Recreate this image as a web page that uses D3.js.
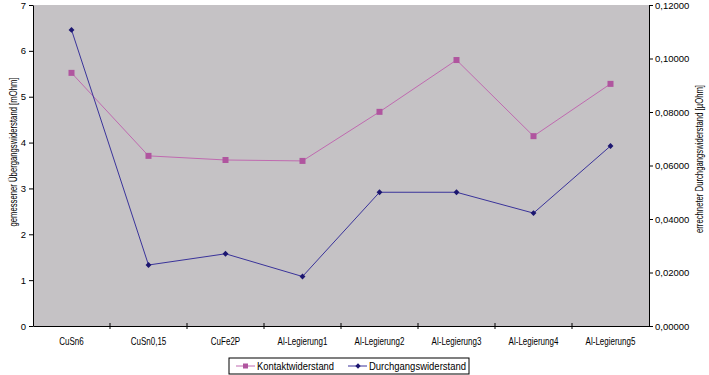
<!DOCTYPE html>
<html>
<head>
<meta charset="utf-8">
<script src="https://cdn.jsdelivr.net/npm/d3@7"></script>
<style>
  body { margin: 0; background: #fff; }
  text { font-family: "Liberation Sans", Arial, sans-serif; fill: #000; }
</style>
</head>
<body>
<div id="chart"></div>
<script>
// data
const categories = ['CuSn6', 'CuSn0,15', 'CuFe2P', 'Al-Legierung1', 'Al-Legierung2', 'Al-Legierung3', 'Al-Legierung4', 'Al-Legierung5'];
const kontakt = [5.52, 3.71, 3.62, 3.60, 4.67, 5.80, 4.14, 5.28];   // mOhm, left axis
const durchgang = [0.1107, 0.0228, 0.0270, 0.0185, 0.0500, 0.0500, 0.0422, 0.0673]; // µOhm, right axis
const leftTicks = [0, 1, 2, 3, 4, 5, 6, 7];
const rightTicks = [0, 0.02, 0.04, 0.06, 0.08, 0.10, 0.12];

const width = 709, height = 375;
const plot = { left: 33, right: 649, top: 5, bottom: 326 };

const svg = d3.select('#chart').append('svg')
  .attr('width', width)
  .attr('height', height);

const x = d3.scaleBand().domain(categories).range([plot.left, plot.right]);
const yL = d3.scaleLinear().domain([0, 7]).range([plot.bottom, plot.top]);
const yR = d3.scaleLinear().domain([0, 0.12]).range([plot.bottom, plot.top]);

// plot area
svg.append('rect')
  .attr('x', plot.left).attr('y', plot.top)
  .attr('width', plot.right - plot.left).attr('height', plot.bottom - plot.top)
  .attr('fill', '#c5c2c5');

// axes
const axL = svg.append('g')
  .attr('transform', `translate(${plot.left},0)`)
  .call(d3.axisLeft(yL).tickValues(leftTicks).tickSize(4).tickSizeOuter(0).tickFormat(d3.format('d')));

const axR = svg.append('g')
  .attr('transform', `translate(${plot.right},0)`)
  .call(d3.axisRight(yR).tickValues(rightTicks).tickSize(4).tickSizeOuter(0)
    .tickFormat(d => d3.format('.5f')(d).replace('.', ',')));

const axB = svg.append('g')
  .attr('transform', `translate(0,${plot.bottom})`)
  .call(d3.axisBottom(x).tickSize(0).tickSizeOuter(0));

// tick marks between categories
axB.selectAll('.sep')
  .data(categories.slice(1))
  .enter()
  .append('line')
  .attr('x1', d => x(d)).attr('x2', d => x(d))
  .attr('y1', -3).attr('y2', 3)
  .attr('stroke', '#000');

[axL, axR, axB].forEach(a => {
  a.select('.domain').attr('stroke', '#000');
  a.selectAll('.tick line').attr('stroke', '#000');
  a.selectAll('text').attr('font-size', 9.5).attr('font-family', '"Liberation Sans", Arial, sans-serif');
});
axL.selectAll('.tick text').attr('x', -7);
axR.selectAll('.tick text').attr('x', 6);
axB.selectAll('.tick text')
  .attr('font-size', 10)
  .attr('dy', 0).attr('y', 19)
  .attr('transform', 'scale(0.8,1)');

// axis titles
svg.append('text')
  .attr('transform', 'translate(17,152) rotate(-90)')
  .attr('text-anchor', 'middle')
  .attr('font-size', 11)
  .attr('textLength', 149)
  .attr('lengthAdjust', 'spacingAndGlyphs')
  .text('gemessener Übergangswiderstand [mOhm]');

svg.append('text')
  .attr('transform', 'translate(703,159) rotate(-90)')
  .attr('text-anchor', 'middle')
  .attr('font-size', 11)
  .attr('textLength', 148)
  .attr('lengthAdjust', 'spacingAndGlyphs')
  .text('errechneter Durchgangswiderstand [µOhm]');

const cx = d => x(d) + x.bandwidth() / 2;
const pink = '#b0559f', pinkLine = '#c06ab0';
const blue = '#1c1670', blueLine = '#3a339a';

// Kontaktwiderstand
svg.append('path')
  .datum(kontakt)
  .attr('fill', 'none')
  .attr('stroke', pinkLine)
  .attr('stroke-width', 1)
  .attr('d', d3.line().x((d, i) => cx(categories[i])).y(d => yL(d)));

svg.selectAll('.sq')
  .data(kontakt)
  .enter()
  .append('rect')
  .attr('x', (d, i) => cx(categories[i]) - 3)
  .attr('y', d => yL(d) - 3)
  .attr('width', 6).attr('height', 6)
  .attr('fill', pink);

// Durchgangswiderstand
svg.append('path')
  .datum(durchgang)
  .attr('fill', 'none')
  .attr('stroke', blueLine)
  .attr('stroke-width', 1)
  .attr('d', d3.line().x((d, i) => cx(categories[i])).y(d => yR(d)));

svg.selectAll('.dia')
  .data(durchgang)
  .enter()
  .append('path')
  .attr('transform', (d, i) => `translate(${cx(categories[i])},${yR(d)})`)
  .attr('d', d3.symbol().type(d3.symbolDiamond2).size(22))
  .attr('fill', blue);

// legend
const lg = svg.append('g').attr('transform', 'translate(229,358)');
lg.append('rect')
  .attr('width', 240).attr('height', 16)
  .attr('fill', '#fff').attr('stroke', '#000');

const items = [
  { name: 'Kontaktwiderstand', color: pinkLine, mark: pink, type: 'sq', x0: 7, len: 77 },
  { name: 'Durchgangswiderstand', color: blueLine, mark: blue, type: 'dia', x0: 119, len: 97 }
];
items.forEach(it => {
  lg.append('line')
    .attr('x1', it.x0).attr('x2', it.x0 + 19)
    .attr('y1', 8).attr('y2', 8)
    .attr('stroke', it.color);
  if (it.type === 'sq') {
    lg.append('rect').attr('x', it.x0 + 7).attr('y', 5.5).attr('width', 5).attr('height', 5).attr('fill', it.mark);
  } else {
    lg.append('path').attr('transform', `translate(${it.x0 + 10},8)`)
      .attr('d', d3.symbol().type(d3.symbolDiamond2).size(18)).attr('fill', it.mark);
  }
  lg.append('text')
    .attr('x', it.x0 + 21).attr('y', 12)
    .attr('font-size', 10.5)
    .attr('textLength', it.len)
    .attr('lengthAdjust', 'spacingAndGlyphs')
    .text(it.name);
});
</script>
</body>
</html>
